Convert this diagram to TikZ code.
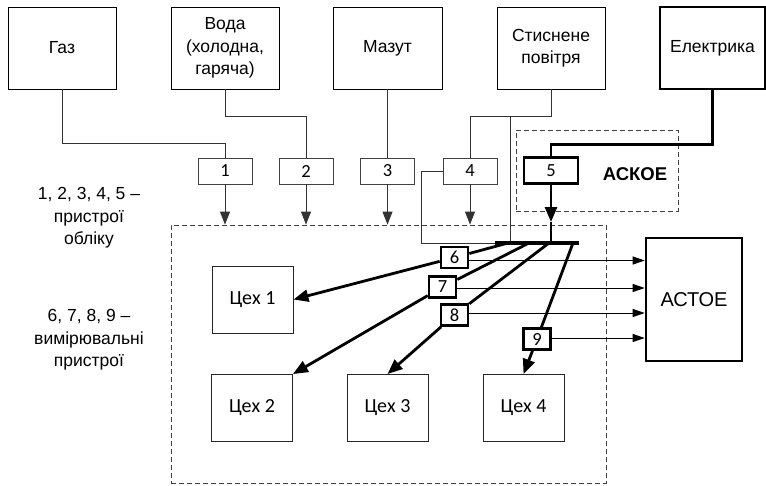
\documentclass[tikz,border=0pt]{standalone}
\usepackage{fontspec}
\setmainfont{Liberation Sans}
\newfontfamily\calfont{Carlito}
\usetikzlibrary{arrows.meta}
\begin{document}
\begin{tikzpicture}[x=1pt,y=-1pt,
  txt/.style={font=\fontsize{17.5}{22.5}\selectfont},
  src/.style={draw=black,line width=0.9pt,minimum width=108pt,minimum height=82pt,inner sep=0pt,align=center,txt,fill=white},
  srcthick/.style={src,line width=2.6pt},
  meter/.style={draw=black!75,line width=0.9pt,minimum width=54pt,minimum height=26pt,inner sep=0pt,font=\calfont\fontsize{18.5}{19}\selectfont,fill=white},
  meterthick/.style={meter,draw=black,line width=2.6pt},
  small/.style={draw=black,line width=2.6pt,minimum width=27pt,minimum height=21pt,inner sep=0pt,font=\calfont\fontsize{18.5}{19}\selectfont,fill=white},
  shop/.style={draw=black!85,line width=0.9pt,minimum width=81pt,minimum height=67pt,inner sep=0pt,font=\calfont\fontsize{20}{22}\selectfont},
  zonebox/.style={draw=black!75,line width=0.9pt,dash pattern=on 5pt off 3pt,inner sep=0pt},
  conn/.style={draw=black!80,line width=0.9pt},
  thinarr/.style={conn,-{Triangle[length=13pt,width=10pt]}},
  outarr/.style={draw=black,line width=0.9pt,-{Triangle[length=12pt,width=8pt]}},
  heavy/.style={draw=black,line width=2.8pt},
  heavyarr/.style={heavy,-{Triangle[length=15pt,width=12pt]}},
]
\useasboundingbox (0,0) rectangle (766,485);

% zones
\node[zonebox,minimum width=435pt,minimum height=258pt] (zone) at (388.5,354) {};
\node[zonebox,minimum width=162pt,minimum height=81pt] (askoe) at (597,170.5) {};
\node[font=\bfseries\fontsize{18.5}{20}\selectfont] (askoelbl) at (635,174) {АСКОЕ};

% sources
\node[src] (s1) at (62,48) {Газ};
\node[src] (s2) at (225,48) {Вода\\(холодна,\\гаряча)};
\node[src,minimum width=109pt] (s3) at (387.5,48) {Мазут};
\node[src] (s4) at (551,48) {Стиснене\\повітря};
\node[srcthick,minimum width=105pt] (s5) at (712.5,48) {Електрика};

% meters 1-5
\node[meter] (m1) at (225,171) {1};
\node[meter] (m2) at (306,171) {2};
\node[meter] (m3) at (387.5,171) {3};
\node[meter] (m4) at (470,171) {4};
\node[meterthick,minimum height=26pt] (m5) at (551,170.5) {5};

% legend
\node[txt,align=center] (leg1) at (89,218) {1, 2, 3, 4, 5 –\\пристрої\\обліку};
\node[txt,align=center] (leg2) at (89,340) {6, 7, 8, 9 –\\вимірювальні\\пристрої};

% shops
\node[shop] (c1) at (252.5,299.5) {Цех 1};
\node[shop] (c2) at (252,408) {Цех 2};
\node[shop] (c3) at (387.5,408) {Цех 3};
\node[shop] (c4) at (523.5,408) {Цех 4};

% ASTOE
\node[draw=black,line width=2.6pt,minimum width=96pt,minimum height=123pt,inner sep=0pt,font=\fontsize{20}{22}\selectfont] (astoe) at (694,299.5) {АСТОЕ};

% measuring devices 6-9
\node[small] (m6) at (454.5,257.5) {6};
\node[small] (m7) at (442.5,287) {7};
\node[small] (m8) at (454.5,315) {8};
\node[small] (m9) at (537,339) {9};

% bus coordinates
\coordinate (busL) at (495,243);
\coordinate (busR) at (579,243);
\coordinate (b6) at (508,243);
\coordinate (b7) at (529,243);
\coordinate (b8) at (549,243);
\coordinate (b9) at (573,243);
\coordinate (b5) at (551,243);
\coordinate (a5) at (551,222);
\coordinate (k1) at (551,116);
\coordinate (k2) at (510,116);
\coordinate (k3) at (510,243);

% source connectors
\draw[conn] (s1.south) -- ++(0,54) -| (m1.north);
\draw[conn] (s2.south) -- ++(0,27) -| (m2.north);
\draw[conn] (s3.south) -- (m3.north);
\draw[conn] (s4.south) -- (k1) -| (m4.north);
\draw[conn] (k2) -- (k3);
\draw[conn] (m4.west) -- ++(-21,0) |- (busL);
\draw[heavy] (s5.south) -- ++(0,54) -| (m5.north);

% meter arrows into zone
\draw[thinarr] (m1.south) -- (m1.south |- zone.north);
\draw[thinarr] (m2.south) -- (m2.south |- zone.north);
\draw[thinarr] (m3.south) -- (m3.south |- zone.north);
\draw[thinarr] (m4.south) -- (m4.south |- zone.north);
\draw[heavyarr] (m5.south) -- (a5);
\draw[heavy] (a5) -- (b5);

% bus
\draw[draw=black,line width=3.6pt] (busL) -- (busR);

% distribution lines
\draw[heavy] (b6) -- (m6);
\draw[heavyarr] (m6) -- (c1.east);
\draw[heavy] (b7) -- (m7);
\draw[heavyarr] (m7) -- (c2.north east);
\draw[heavy] (b8) -- (m8);
\draw[heavyarr] (m8) -- (c3.north);
\draw[heavy] (b9) -- (m9);
\draw[heavyarr] (m9) -- (c4.north);

% redraw small boxes on top
\node[small] at (m6) {6};
\node[small] at (m7) {7};
\node[small] at (m8) {8};
\node[small] at (m9) {9};

% outputs to ASTOE
\draw[outarr] ([yshift=-3pt]m6.east) -- ([yshift=-3pt]m6.east -| astoe.west);
\draw[outarr] ([yshift=-1pt]m7.east) -- ([yshift=-1pt]m7.east -| astoe.west);
\draw[outarr] ([yshift=2pt]m8.east) -- ([yshift=2pt]m8.east -| astoe.west);
\draw[outarr] ([yshift=1pt]m9.east) -- ([yshift=1pt]m9.east -| astoe.west);
\end{tikzpicture}
\end{document}
